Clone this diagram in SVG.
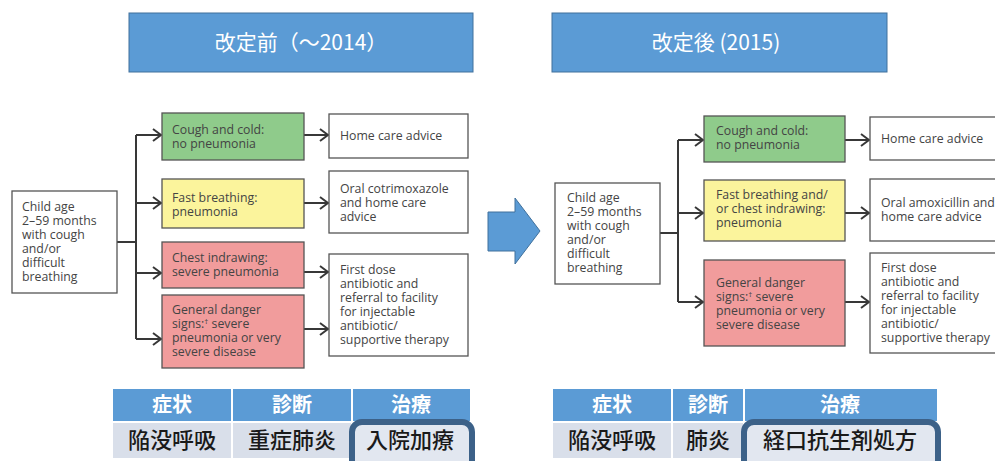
<svg xmlns="http://www.w3.org/2000/svg" width="995" height="461" viewBox="0 0 995 461">
<defs>
<style>
.title{fill:#5b9bd5;stroke:#41719c;stroke-width:1}
.tt{font-family:"Noto Sans CJK JP","Noto Sans",sans-serif;font-size:21px;fill:#fff;text-anchor:middle}
.wb{fill:#fff;stroke:#555;stroke-width:1.3}
.gb{fill:#8fcb8b;stroke:#555;stroke-width:1.3}
.yb{fill:#fbf49c;stroke:#555;stroke-width:1.3}
.rb{fill:#f19c9c;stroke:#555;stroke-width:1.3}
.t{font-family:"Open Sans","Noto Sans",sans-serif;font-size:12.3px;fill:#444}
.c{fill:none;stroke:#383838;stroke-width:2}
.ca{fill:none;stroke:#383838;stroke-width:2;marker-end:url(#arr)}
.th{fill:#5b9bd5}
.tr{fill:#d9dfea}
.sep{stroke:#fff;stroke-width:2}
.hd{font-family:"Noto Sans CJK JP",sans-serif;font-size:20px;font-weight:700;fill:#fff;text-anchor:middle}
.bd{font-family:"Noto Sans CJK JP",sans-serif;font-size:22px;font-weight:500;fill:#1a1a1a;text-anchor:middle}
.hl{fill:#e2e7f0;stroke:#3c6188;stroke-width:6}
</style>
<marker id="arr" markerUnits="userSpaceOnUse" markerWidth="12" markerHeight="14" refX="10" refY="7" orient="auto">
<path d="M2,1 L10,7 L2,13" fill="none" stroke="#383838" stroke-width="2"/>
</marker>
</defs>

<g id="title-before">
<rect class="title" x="129" y="13" width="344" height="59"/>
<text class="tt" x="301" y="50">改定前（～2014）</text>
</g>
<g id="title-after">
<rect class="title" x="552" y="13" width="335" height="59"/>
<text class="tt" x="716" y="50">改定後 (2015)</text>
</g>

<g id="big-arrow">
<polygon points="488,212 515,212 515,198 540,231 515,264 515,251 488,251" fill="#5b9bd5" stroke="#41719c" stroke-width="1"/>
</g>

<g id="connectors">
<path class="c" d="M117,242 H136 M136,135 V339"/>
<path class="ca" d="M136,135 H161"/>
<path class="ca" d="M136,203 H161"/>
<path class="ca" d="M136,273 H161"/>
<path class="ca" d="M136,339 H161"/>
<path class="ca" d="M304,135 H328"/>
<path class="ca" d="M304,203 H328"/>
<path class="ca" d="M304,272 H328"/>
<path class="ca" d="M304,329 H328"/>
<path class="c" d="M660,233 H678 M678,140 V302"/>
<path class="ca" d="M678,140 H703"/>
<path class="ca" d="M678,213 H703"/>
<path class="ca" d="M678,302 H703"/>
<path class="ca" d="M845,140 H869"/>
<path class="ca" d="M845,213 H869"/>
<path class="ca" d="M845,302 H869"/>
</g>

<!-- Left flowchart -->
<g id="L-child">
<rect class="wb" x="12" y="191" width="105" height="102"/>
<text class="t" x="22" y="211">Child age</text>
<text class="t" x="22" y="225">2–59 months</text>
<text class="t" x="22" y="239">with cough</text>
<text class="t" x="22" y="253">and/or</text>
<text class="t" x="22" y="267">difficult</text>
<text class="t" x="22" y="281">breathing</text>
</g>
<g id="L-green">
<rect class="gb" x="162" y="113" width="142" height="47"/>
<text class="t" x="172" y="134">Cough and cold:</text>
<text class="t" x="172" y="148">no pneumonia</text>
</g>
<g id="L-yellow">
<rect class="yb" x="162" y="179" width="142" height="49"/>
<text class="t" x="172" y="202">Fast breathing:</text>
<text class="t" x="172" y="216">pneumonia</text>
</g>
<g id="L-red1">
<rect class="rb" x="162" y="242" width="142" height="46"/>
<text class="t" x="172" y="262">Chest indrawing:</text>
<text class="t" x="172" y="276">severe pneumonia</text>
</g>
<g id="L-red2">
<rect class="rb" x="162" y="295" width="142" height="73"/>
<text class="t" x="172" y="314">General danger</text>
<text class="t" x="172" y="328">signs:<tspan font-size="8" dy="-4">†</tspan><tspan dy="4"> severe</tspan></text>
<text class="t" x="172" y="342">pneumonia or very</text>
<text class="t" x="172" y="356">severe disease</text>
</g>
<g id="L-home">
<rect class="wb" x="329" y="114" width="139" height="44"/>
<text class="t" x="340" y="140">Home care advice</text>
</g>
<g id="L-oral">
<rect class="wb" x="329" y="171" width="139" height="62"/>
<text class="t" x="340" y="193">Oral cotrimoxazole</text>
<text class="t" x="340" y="207">and home care</text>
<text class="t" x="340" y="221">advice</text>
</g>
<g id="L-first">
<rect class="wb" x="329" y="254" width="139" height="102"/>
<text class="t" x="340" y="274">First dose</text>
<text class="t" x="340" y="288">antibiotic and</text>
<text class="t" x="340" y="302">referral to facility</text>
<text class="t" x="340" y="316">for injectable</text>
<text class="t" x="340" y="330">antibiotic/</text>
<text class="t" x="340" y="344">supportive therapy</text>
</g>

<!-- Right flowchart -->
<g id="R-child">
<rect class="wb" x="555" y="183" width="105" height="101"/>
<text class="t" x="567" y="202">Child age</text>
<text class="t" x="567" y="216">2–59 months</text>
<text class="t" x="567" y="230">with cough</text>
<text class="t" x="567" y="244">and/or</text>
<text class="t" x="567" y="258">difficult</text>
<text class="t" x="567" y="272">breathing</text>
</g>
<g id="R-green">
<rect class="gb" x="704" y="116" width="141" height="46"/>
<text class="t" x="716" y="135">Cough and cold:</text>
<text class="t" x="716" y="149">no pneumonia</text>
</g>
<g id="R-yellow">
<rect class="yb" x="704" y="180" width="141" height="61"/>
<text class="t" x="716" y="199">Fast breathing and/</text>
<text class="t" x="716" y="213">or chest indrawing:</text>
<text class="t" x="716" y="227">pneumonia</text>
</g>
<g id="R-red">
<rect class="rb" x="704" y="260" width="141" height="86"/>
<text class="t" x="716" y="287">General danger</text>
<text class="t" x="716" y="301">signs:<tspan font-size="8" dy="-4">†</tspan><tspan dy="4"> severe</tspan></text>
<text class="t" x="716" y="315">pneumonia or very</text>
<text class="t" x="716" y="329">severe disease</text>
</g>
<g id="R-home">
<rect class="wb" x="870" y="117" width="140" height="43"/>
<text class="t" x="881" y="143">Home care advice</text>
</g>
<g id="R-oral">
<rect class="wb" x="870" y="179" width="140" height="62"/>
<text class="t" x="881" y="207">Oral amoxicillin and</text>
<text class="t" x="881" y="221">home care advice</text>
</g>
<g id="R-first">
<rect class="wb" x="870" y="253" width="140" height="100"/>
<text class="t" x="881" y="272">First dose</text>
<text class="t" x="881" y="286">antibiotic and</text>
<text class="t" x="881" y="300">referral to facility</text>
<text class="t" x="881" y="314">for injectable</text>
<text class="t" x="881" y="328">antibiotic/</text>
<text class="t" x="881" y="342">supportive therapy</text>
</g>

<!-- Left table -->
<g id="L-table">
<rect class="th" x="113" y="389" width="357" height="33"/>
<rect class="tr" x="113" y="422" width="357" height="36"/>
<line class="sep" x1="113" y1="422" x2="470" y2="422"/>
<line class="sep" x1="232" y1="389" x2="232" y2="458"/>
<line class="sep" x1="352" y1="389" x2="352" y2="458"/>
<rect class="hl" x="352" y="422" width="120" height="50" rx="10"/>
<text class="hd" x="172" y="412">症状</text>
<text class="hd" x="292" y="412">診断</text>
<text class="hd" x="411" y="412">治療</text>
<text class="bd" x="172" y="448">陥没呼吸</text>
<text class="bd" x="292" y="448">重症肺炎</text>
<text class="bd" x="410" y="448">入院加療</text>
</g>

<!-- Right table -->
<g id="R-table">
<rect class="th" x="553" y="389" width="384" height="33"/>
<rect class="tr" x="553" y="422" width="384" height="36"/>
<line class="sep" x1="553" y1="422" x2="937" y2="422"/>
<line class="sep" x1="672" y1="389" x2="672" y2="458"/>
<line class="sep" x1="744" y1="389" x2="744" y2="458"/>
<rect class="hl" x="744" y="422" width="194" height="50" rx="10"/>
<text class="hd" x="612" y="412">症状</text>
<text class="hd" x="708" y="412">診断</text>
<text class="hd" x="840" y="412">治療</text>
<text class="bd" x="612" y="448">陥没呼吸</text>
<text class="bd" x="708" y="448">肺炎</text>
<text class="bd" x="840" y="448">経口抗生剤処方</text>
</g>
</svg>
